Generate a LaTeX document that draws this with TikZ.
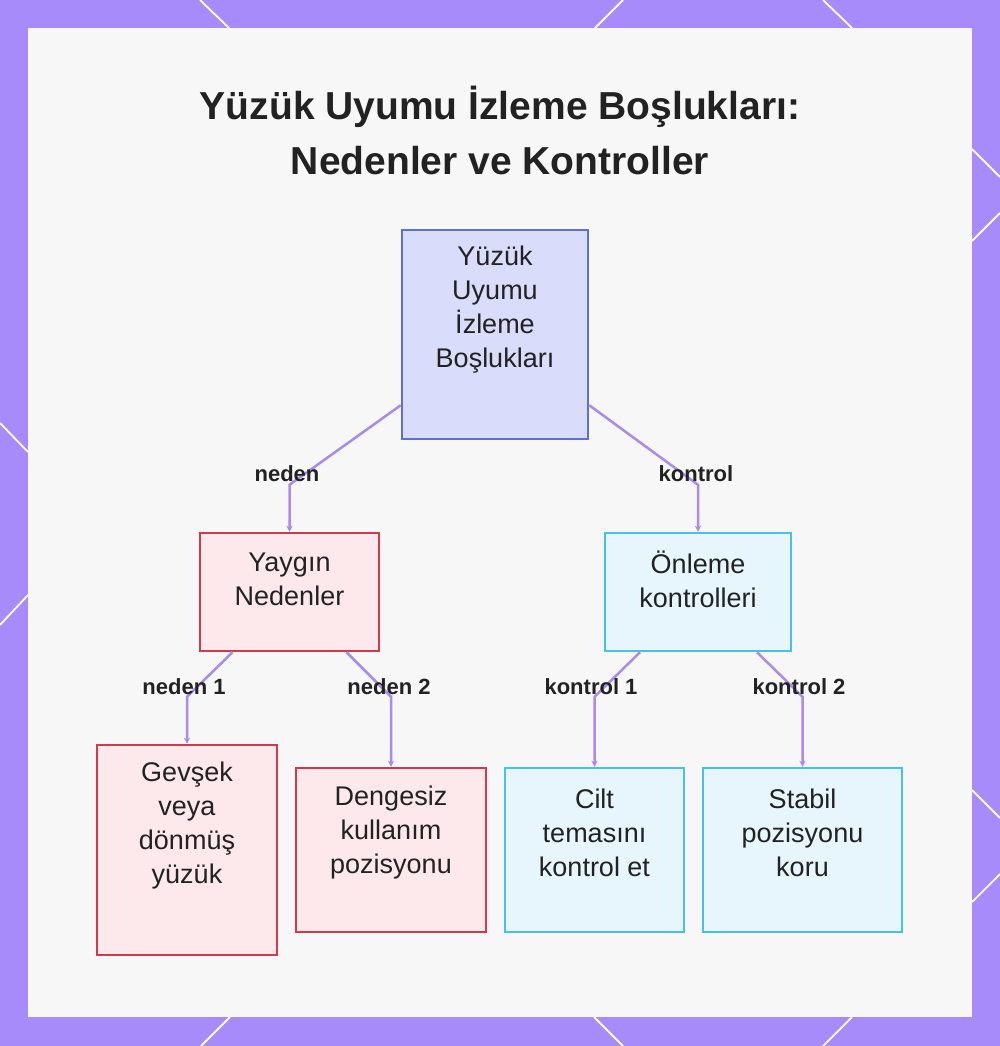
\documentclass[tikz,border=0pt]{standalone}
\usepackage{fontspec}
\setmainfont{Liberation Sans}
\usetikzlibrary{arrows.meta,calc}
\definecolor{framecol}{HTML}{A78BFA}
\definecolor{panelcol}{HTML}{F7F7F7}
\definecolor{rootfill}{HTML}{D9DCFB}
\definecolor{rootdraw}{HTML}{5F6FCF}
\definecolor{redfill}{HTML}{FDE8EC}
\definecolor{reddraw}{HTML}{CF3A4E}
\definecolor{bluefill}{HTML}{E7F5FC}
\definecolor{bluedraw}{HTML}{48C0E8}
\definecolor{conncol}{HTML}{A98BEE}
\definecolor{textcol}{HTML}{222222}
\begin{document}
\begin{tikzpicture}[x=1pt,y=-1pt,
  boxbase/.style={rectangle, line width=2.5pt, inner sep=0pt},
  rootbox/.style={boxbase, fill=rootfill, draw=rootdraw},
  redbox/.style={boxbase, fill=redfill, draw=reddraw},
  bluebox/.style={boxbase, fill=bluefill, draw=bluedraw},
  boxtext/.style={inner sep=0pt, align=center, text=textcol, font=\fontsize{27}{34}\selectfont},
  conn/.style={draw=conncol, line width=2.5pt, -{Stealth[length=6pt,width=6pt]}},
  elabel/.style={inner sep=0pt, text=textcol, font=\fontsize{22}{26}\selectfont\bfseries},
  deco/.style={draw=white, line width=1.8pt}
]
\useasboundingbox (0,0) rectangle (1000,1046);
\fill[framecol] (0,0) rectangle (1000,1046);
\fill[panelcol] (28,28) rectangle (972,1017);
% border decoration lines
\draw[deco] (200,0) -- (229,28);
\draw[deco] (623,0) -- (595,28);
\draw[deco] (823,0) -- (852,28);
\draw[deco] (0,423) -- (28,452);
\draw[deco] (28,595) -- (0,625);
\draw[deco] (972,149) -- (1000,177);
\draw[deco] (972,241) -- (1000,213);
\draw[deco] (972,790) -- (1000,818);
\draw[deco] (972,902) -- (1000,874);
\draw[deco] (230,1017) -- (201,1046);
\draw[deco] (594,1017) -- (623,1046);
\draw[deco] (852,1017) -- (823,1046);

% title
\node[inner sep=0pt, text=textcol, align=center, font=\fontsize{39}{55}\selectfont\bfseries] (title) at (500,130) {Yüzük Uyumu İzleme Boşlukları:\\Nedenler ve Kontroller};

% boxes
\node[rootbox, minimum width=186pt, minimum height=209pt] (root) at (495,334.5) {};
\node[redbox, minimum width=179pt, minimum height=118pt] (ya) at (289.5,592) {};
\node[bluebox, minimum width=186pt, minimum height=118pt] (on) at (698,592) {};
\node[redbox, minimum width=180pt, minimum height=210pt] (ge) at (187,850) {};
\node[redbox, minimum width=190pt, minimum height=164pt] (de) at (391,850) {};
\node[bluebox, minimum width=179pt, minimum height=164pt] (ci) at (594.5,850) {};
\node[bluebox, minimum width=199pt, minimum height=164pt] (st) at (802.5,850) {};

% box texts
\node[boxtext] (roott) at (495,310) {Yüzük\\Uyumu\\İzleme\\Boşlukları};
\node[boxtext] (yat) at (289.5,579) {Yaygın\\Nedenler};
\node[boxtext] (ont) at (698,579) {Önleme\\kontrolleri};
\node[boxtext] (get) at (187,826) {Gevşek\\veya\\dönmüş\\yüzük};
\node[boxtext] (det) at (391,833) {Dengesiz\\kullanım\\pozisyonu};
\node[boxtext] (cit) at (594.5,833) {Cilt\\temasını\\kontrol et};
\node[boxtext] (stt) at (802.5,833) {Stabil\\pozisyonu\\koru};

% connectors
\draw[conn] ([yshift=35pt]root.south west) -- ([yshift=47pt]ya.north) -- (ya.north);
\draw[conn] ([yshift=35pt]root.south east) -- ([yshift=47pt]on.north) -- (on.north);
\draw[conn] ([xshift=-57pt]ya.south) -- ([yshift=47pt]ge.north) -- (ge.north);
\draw[conn] ([xshift=57pt]ya.south) -- ([yshift=70pt]de.north) -- (de.north);
\draw[conn] ([xshift=-58pt]on.south) -- ([yshift=70pt]ci.north) -- (ci.north);
\draw[conn] ([xshift=59pt]on.south) -- ([yshift=70pt]st.north) -- (st.north);

% connector labels
\node[elabel] (l1) at (287,474) {neden};
\node[elabel] (l2) at (696,474) {kontrol};
\node[elabel] (l3) at (184,687) {neden 1};
\node[elabel] (l4) at (389,687) {neden 2};
\node[elabel] (l5) at (591,687) {kontrol 1};
\node[elabel] (l6) at (799,687) {kontrol 2};
\end{tikzpicture}
\end{document}
